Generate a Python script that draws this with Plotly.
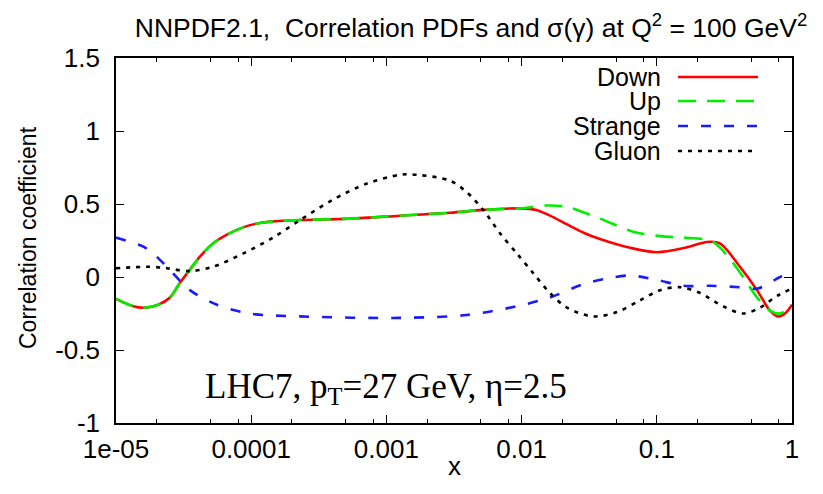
import plotly.graph_objects as go

# ---------------- data ----------------
x_common = [1.0e-5, 1.34e-5, 1.64e-5, 2.05e-5, 2.51e-5, 2.97e-5, 3.52e-5, 4.18e-5,
            5.21e-5, 6.62e-5, 8.69e-5, 1.16e-4, 1.45e-4, 2.30e-4, 5.37e-4, 1.26e-3,
            2.95e-3, 5.19e-3, 9.72e-3]
y_common = [-0.15, -0.20, -0.21, -0.19, -0.14, -0.04, 0.05, 0.14,
            0.23, 0.29, 0.34, 0.37, 0.38, 0.39, 0.40, 0.42,
            0.44, 0.46, 0.47]

x_down_tail = [1.27e-2, 1.62e-2, 2.17e-2, 2.93e-2, 3.80e-2, 6.34e-2, 0.100, 0.162,
               0.235, 0.293, 0.412, 0.551, 0.687, 0.787, 0.887, 1.0]
y_down_tail = [0.46, 0.42, 0.36, 0.30, 0.26, 0.20, 0.17, 0.20,
               0.24, 0.23, 0.07, -0.09, -0.23, -0.27, -0.25, -0.19]

x_up_tail = [1.54e-2, 2.17e-2, 3.80e-2, 6.67e-2, 0.106, 0.156, 0.220, 0.261,
             0.330, 0.435, 0.551, 0.687, 0.815, 1.0]
y_up_tail = [0.49, 0.48, 0.40, 0.31, 0.28, 0.27, 0.26, 0.24,
             0.15, 0.0, -0.14, -0.23, -0.25, -0.19]

x_strange = [1.0e-5, 1.27e-5, 1.58e-5, 1.94e-5, 2.38e-5, 3.52e-5, 5.58e-5, 9.79e-5,
             2.30e-4, 1.26e-3, 3.94e-3, 9.25e-3, 1.62e-2, 2.84e-2, 4.29e-2, 6.34e-2,
             0.100, 0.156, 0.247, 0.412, 0.551, 0.687, 0.815, 1.0]
y_strange = [0.27, 0.24, 0.21, 0.15, 0.07, -0.09, -0.19, -0.25,
             -0.27, -0.28, -0.26, -0.20, -0.14, -0.05, -0.01, 0.01,
             -0.02, -0.06, -0.06, -0.07, -0.08, -0.04, 0.0, 0.02]

x_gluon = [1.0e-5, 1.78e-5, 2.38e-5, 3.52e-5, 5.21e-5, 8.69e-5, 1.45e-4, 2.30e-4,
           4.03e-4, 7.19e-4, 1.26e-3, 1.68e-3, 2.95e-3, 3.94e-3, 5.19e-3, 6.92e-3,
           9.25e-3, 1.21e-2, 1.62e-2, 2.17e-2, 3.37e-2, 5.08e-2, 7.52e-2, 0.106,
           0.149, 0.209, 0.309, 0.435, 0.579, 0.774, 1.0]
y_gluon = [0.06, 0.07, 0.06, 0.04, 0.07, 0.16, 0.27, 0.39,
           0.53, 0.64, 0.70, 0.70, 0.66, 0.58, 0.46, 0.30,
           0.16, 0.03, -0.11, -0.21, -0.27, -0.24, -0.16, -0.09,
           -0.07, -0.11, -0.20, -0.25, -0.21, -0.13, -0.08]

x_tick_vals = [1e-5, 1e-4, 1e-3, 1e-2, 1e-1, 1]
x_tick_text = ["1e-05", "0.0001", "0.001", "0.01", "0.1", "1"]
y_tick_vals = [-1, -0.5, 0, 0.5, 1, 1.5]
y_tick_text = ["-1", "-0.5", "0", "0.5", "1", "1.5"]
minor_mults = [2, 5, 8]

series_names = ["Down", "Up", "Strange", "Gluon"]
series_colors = ["#ff0000", "#00ee00", "#1a1aff", "#000000"]
series_dash = ["solid", "18px,11px", "10px,13px", "4px,6px"]

title_text = "NNPDF2.1,  Correlation PDFs and σ(γ) at Q<sup>2</sup> = 100 GeV<sup>2</sup>"
note_text = "LHC7, p<sub>T</sub>=27 GeV, η=2.5"

# ---------------- figure ----------------
x_down = x_common + x_down_tail
y_down = y_common + y_down_tail
x_up = x_common + x_up_tail
y_up = y_common + y_up_tail

series_x = [x_down, x_up, x_strange, x_gluon]
series_y = [y_down, y_up, y_strange, y_gluon]

fig = go.Figure()
for i in range(4):
    fig.add_trace(go.Scatter(
        x=series_x[i], y=series_y[i], mode="lines", name=series_names[i],
        line=dict(color=series_colors[i], width=2.6, dash=series_dash[i],
                  shape="spline", smoothing=0.9),
        showlegend=False, hoverinfo="skip"))

minor_vals = [m * d for d in [1e-5, 1e-4, 1e-3, 1e-2, 1e-1] for m in minor_mults]

sans = "Liberation Sans, Arial, Helvetica, sans-serif"
serif = "Liberation Serif, Times New Roman, serif"

# the page body adds an 8px offset; margins compensate so the frame sits at
# x 116..792, y 58..423 in the window
OFF = 8
fig.update_layout(
    width=823, height=494,
    margin=dict(l=116 - OFF, r=823 - 792 + OFF, t=58 - OFF, b=494 - 423 + OFF),
    paper_bgcolor="white", plot_bgcolor="white",
    font=dict(family=sans, color="black", size=26),
    title=dict(text=title_text, x=(471 - 116) / 676, xref="paper", xanchor="center",
               y=1 - (28 - OFF) / 494, yref="container", yanchor="middle",
               font=dict(family=sans, size=26.5, color="black")),
    showlegend=False,
)

fig.update_xaxes(
    type="log", range=[-5, 0],
    tickmode="array", tickvals=x_tick_vals, ticktext=x_tick_text,
    ticks="inside", ticklen=8, tickwidth=1.3, tickcolor="black",
    showline=True, linecolor="black", linewidth=1.6, mirror="ticks",
    showgrid=False, zeroline=False,
    tickfont=dict(family=sans, size=26, color="black"),
    ticklabelstandoff=2,
    minor=dict(tickmode="array", tickvals=minor_vals, ticks="inside",
               ticklen=4, tickwidth=1.2, tickcolor="black", showgrid=False),
)
fig.update_yaxes(
    range=[-1, 1.5],
    tickmode="array", tickvals=y_tick_vals, ticktext=y_tick_text,
    ticks="inside", ticklen=8, tickwidth=1.3, tickcolor="black",
    showline=True, linecolor="black", linewidth=1.6, mirror="ticks",
    showgrid=False, zeroline=False,
    tickfont=dict(family=sans, size=26, color="black"),
    ticklabelstandoff=9,
)

annotations = [
    dict(text="Correlation coefficient", xref="paper", yref="paper",
         x=(28 - 116) / 676, y=(423 - 238) / 365, textangle=-90,
         showarrow=False, xanchor="center", yanchor="middle",
         font=dict(family=sans, size=23, color="black")),
    dict(text="x", xref="paper", yref="paper",
         x=0.5, y=(423 - 466) / 365, showarrow=False,
         xanchor="center", yanchor="middle",
         font=dict(family=sans, size=26, color="black")),
    dict(text=note_text, xref="paper", yref="paper",
         x=(386 - 116) / 676, y=(423 - 388) / 365, showarrow=False,
         xanchor="center", yanchor="middle",
         font=dict(family=serif, size=35, color="black")),
]

# manual legend: text right-aligned, sample line on its right
legend_rows_px = [77, 101, 126, 151]
shapes = []
for i, name in enumerate(series_names):
    yp = (423 - legend_rows_px[i]) / 365
    annotations.append(dict(text=name, xref="paper", yref="paper",
                            x=(663 - 116) / 676, y=yp, showarrow=False,
                            xanchor="right", yanchor="middle",
                            font=dict(family=sans, size=25, color="black")))
    shapes.append(dict(type="line", xref="paper", yref="paper",
                       x0=(678 - 116) / 676, x1=(758 - 116) / 676, y0=yp, y1=yp,
                       line=dict(color=series_colors[i], width=2.6,
                                 dash=series_dash[i])))

fig.update_layout(annotations=annotations, shapes=shapes)

fig.write_html("out.html")
